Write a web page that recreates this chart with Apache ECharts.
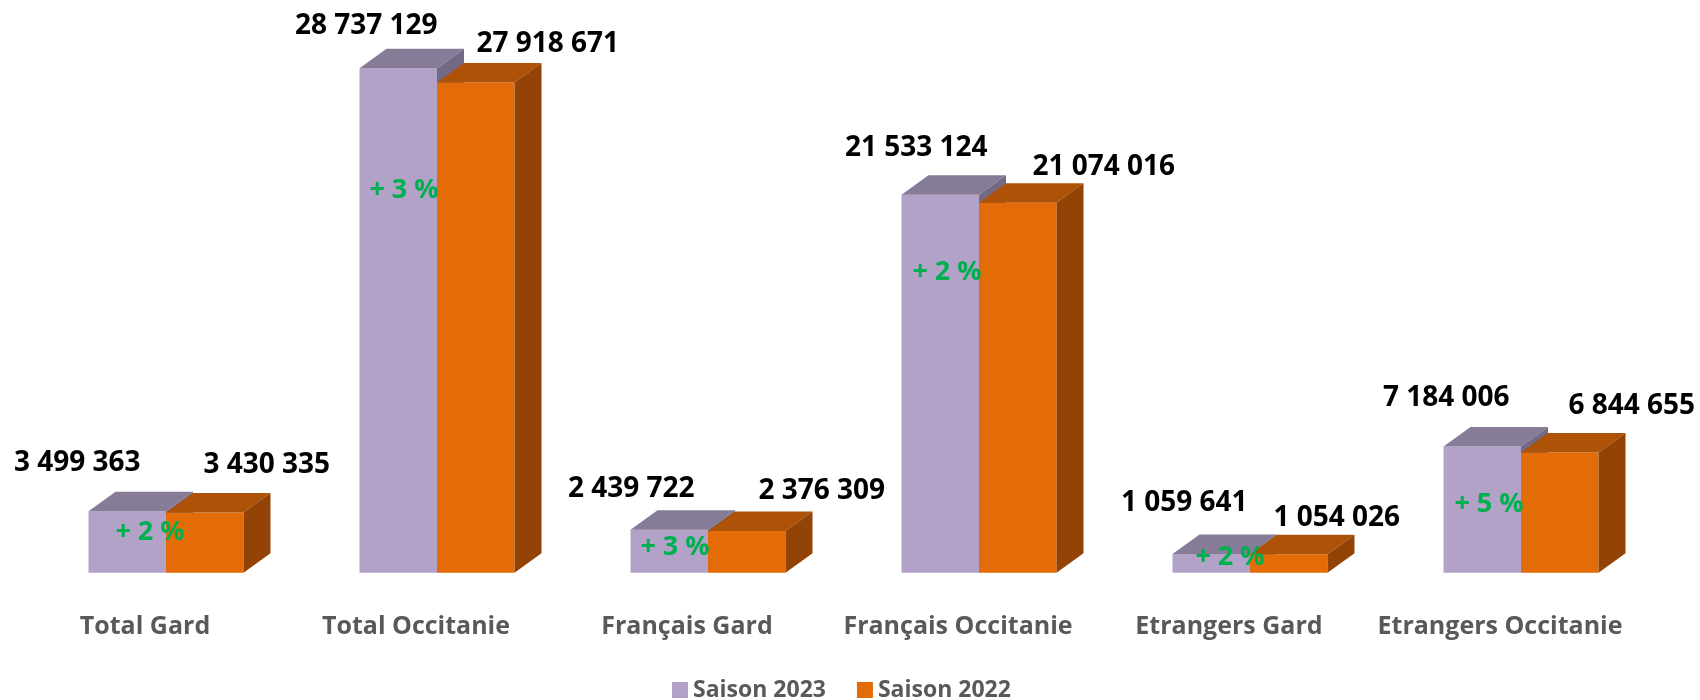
<!DOCTYPE html>
<html>
<head>
<meta charset="utf-8">
<script src="https://cdn.jsdelivr.net/npm/echarts@6/dist/echarts.min.js"></script>
<style>
  html, body { margin: 0; padding: 0; background: #fff; }
  #chart { width: 1700px; height: 700px; }
</style>
</head>
<body>
<div id="chart"></div>
<script>
// Visitor nights, season 2023 vs 2022
const categories = ['Total Gard', 'Total Occitanie', 'Français Gard', 'Français Occitanie', 'Etrangers Gard', 'Etrangers Occitanie'];
const saison2023 = [3499363, 28737129, 2439722, 21533124, 1059641, 7184006];
const saison2022 = [3430335, 27918671, 2376309, 21074016, 1054026, 6844655];
const evolution = ['+ 2 %', '+ 3 %', '+ 3 %', '+ 2 %', '+ 2 %', '+ 5 %'];

// hand-placed label offsets, as in the original workbook (px, from the top of each front face)
const shift2023 = [[-50, -48], [-32, -42], [-38, -41], [-24, -47], [-27, -51], [-36, -49]];
const shift2022 = [[62, -47], [72, -39], [75, -40], [86, -36], [48, -36], [72, -46]];
const shiftEvol = [[-16, 21], [-33, 122], [-33, 17], [-32, 78], [-20, 3], [-32, 58]];

const FONT = '"Open Sans", "Liberation Sans", sans-serif';
const DEPTH_X = 27;
const DEPTH_Y = 19.5;

const fmt = v => String(v).replace(/\B(?=(\d{3})+(?!\d))/g, ' ');

function boxRenderer(colors, side, shifts, withEvol) {
    return function (params, api) {
        const idx = api.value(0);
        const val = api.value(1);
        const base = api.coord([idx, 0]);
        const top = api.coord([idx, val]);
        const band = api.size([1, 0])[0];
        const w = band * 0.286;
        const x0 = side < 0 ? base[0] - w : base[0];
        const x1 = x0 + w;
        const yt = top[1];
        const yb = base[1];

        const children = [
            {
                type: 'rect',
                shape: { x: x0, y: yt, width: w, height: yb - yt },
                style: { fill: colors[0] }
            },
            {
                type: 'polygon',
                shape: { points: [[x0, yt], [x1, yt], [x1 + DEPTH_X, yt - DEPTH_Y], [x0 + DEPTH_X, yt - DEPTH_Y]] },
                style: { fill: colors[1] }
            },
            {
                type: 'polygon',
                shape: { points: [[x1, yt], [x1 + DEPTH_X, yt - DEPTH_Y], [x1 + DEPTH_X, yb - DEPTH_Y], [x1, yb]] },
                style: { fill: colors[2] }
            },
            {
                type: 'text',
                style: {
                    text: fmt(val),
                    x: x0 + w / 2 + shifts[idx][0],
                    y: yt + shifts[idx][1],
                    align: 'center',
                    verticalAlign: 'middle',
                    font: 'bold 28px ' + FONT,
                    fill: '#000000'
                }
            }
        ];

        if (withEvol) {
            // growth label sits on the seam between the two boxes
            const topPurple = api.coord([idx, saison2023[idx]])[1];
            children.push({
                type: 'text',
                style: {
                    text: evolution[idx],
                    x: base[0] + shiftEvol[idx][0],
                    y: topPurple + shiftEvol[idx][1],
                    align: 'center',
                    verticalAlign: 'middle',
                    font: 'bold 27px ' + FONT,
                    fill: '#00B050'
                }
            });
        }
        return { type: 'group', children };
    };
}

const chart = echarts.init(document.getElementById('chart'));

chart.setOption({
    animation: false,
    backgroundColor: '#ffffff',
    grid: { left: 30.5, right: 43.5, top: 46, bottom: 127.3 },
    legend: {
        data: ['Saison 2023', 'Saison 2022'],
        left: 672,
        top: 678,
        padding: 0,
        icon: 'rect',
        itemWidth: 16,
        itemHeight: 16,
        itemGap: 31,
        textStyle: { color: '#595959', fontSize: 23, fontWeight: 'bold', fontFamily: FONT, lineHeight: 24 }
    },
    xAxis: {
        type: 'category',
        data: categories,
        axisLine: { show: false },
        axisTick: { show: false },
        axisLabel: {
            interval: 0,
            margin: 42,
            color: '#595959',
            fontSize: 25,
            fontWeight: 'bold',
            fontFamily: FONT,
            padding: [0, 42, 0, 0]
        }
    },
    yAxis: { type: 'value', min: 0, max: 30000000, show: false },
    series: [
        {
            name: 'Saison 2023',
            type: 'custom',
            itemStyle: { color: '#B3A2C7' },
            renderItem: boxRenderer(['#B3A2C7', '#877C98', '#746A85'], -1, shift2023, false),
            encode: { x: 0, y: 1 },
            data: saison2023.map((v, i) => [i, v])
        },
        {
            name: 'Saison 2022',
            type: 'custom',
            itemStyle: { color: '#E36C09' },
            renderItem: boxRenderer(['#E36C09', '#AD5207', '#934305'], 1, shift2022, true),
            encode: { x: 0, y: 1 },
            data: saison2022.map((v, i) => [i, v])
        }
    ]
});
</script>
</body>
</html>
